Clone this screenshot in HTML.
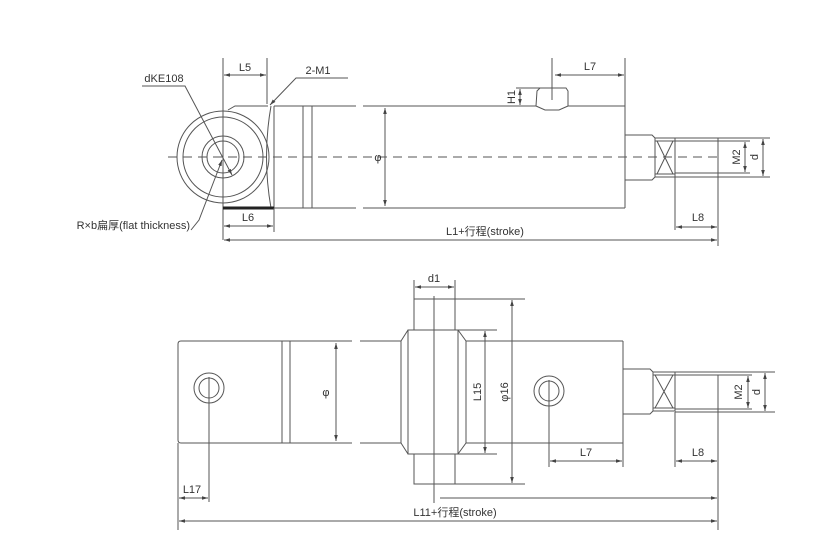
<!DOCTYPE html>
<html><head><meta charset="utf-8"><style>
html,body{margin:0;padding:0;background:#fff;}
svg{display:block}
text{font-family:"Liberation Sans","Noto Sans CJK SC",sans-serif;font-size:11px;fill:#333}
</style></head><body>
<svg width="840" height="546" viewBox="0 0 840 546" xmlns="http://www.w3.org/2000/svg">
<defs>
<marker id="a" viewBox="0 0 10 10" refX="10" refY="5" markerWidth="6" markerHeight="6" orient="auto-start-reverse"><path d="M0,2 L10,5 L0,8 z" fill="#444"/></marker>
</defs>
<g stroke="#555" stroke-width="1" fill="none">
<!-- TOP VIEW -->
<line x1="168" y1="157" x2="722" y2="157" stroke-dasharray="9,6"/>
<circle cx="223" cy="157" r="46"/>
<circle cx="223" cy="157" r="40"/>
<circle cx="223" cy="157" r="21"/>
<circle cx="223" cy="157" r="16"/>
<line x1="223" y1="58" x2="223" y2="240"/>
<path d="M228,110 L235,106 L268,106"/>
<path d="M271,106 Q262,157 271,208"/>
<line x1="274" y1="106" x2="274" y2="208"/>
<line x1="223" y1="208" x2="274" y2="208" stroke="#222" stroke-width="3"/>
<line x1="274" y1="106" x2="356" y2="106"/>
<line x1="274" y1="208" x2="356" y2="208"/>
<line x1="363" y1="106" x2="536" y2="106"/>
<line x1="568" y1="106" x2="625" y2="106"/>
<line x1="363" y1="208" x2="625" y2="208"/>
<rect x="303" y="106" width="9" height="102"/>
<line x1="385" y1="108" x2="385" y2="206" marker-start="url(#a)" marker-end="url(#a)"/>
<path d="M536,106 L537,91 L540,88 L566,88 L568,91 L568,106 M536,106 L545,110 L559,110 L568,106"/>
<line x1="552" y1="58" x2="552" y2="100"/>
<line x1="625" y1="58" x2="625" y2="208"/>
<line x1="555" y1="75" x2="624" y2="75" marker-start="url(#a)" marker-end="url(#a)"/>
<line x1="516" y1="88" x2="540" y2="88"/>
<line x1="520" y1="89" x2="520" y2="105" marker-start="url(#a)" marker-end="url(#a)"/>
<path d="M625,135 L652,135 L655,138 L655,177 L652,180 L625,180"/>
<rect x="655" y="138" width="20" height="39"/>
<path d="M657,141 L673,174 M673,141 L657,174 M655,141 L675,141 M655,174 L675,174"/>
<line x1="675" y1="138" x2="770" y2="138"/>
<line x1="675" y1="177" x2="770" y2="177"/>
<line x1="675" y1="141" x2="750" y2="141"/>
<line x1="675" y1="173" x2="750" y2="173"/>
<line x1="675" y1="177" x2="675" y2="230"/>
<line x1="718" y1="138" x2="718" y2="246"/>
<line x1="745" y1="142" x2="745" y2="172" marker-start="url(#a)" marker-end="url(#a)"/>
<line x1="763" y1="139" x2="763" y2="176" marker-start="url(#a)" marker-end="url(#a)"/>
<line x1="676" y1="227" x2="717" y2="227" marker-start="url(#a)" marker-end="url(#a)"/>
<line x1="224" y1="240" x2="717" y2="240" marker-start="url(#a)" marker-end="url(#a)"/>
<line x1="267" y1="58" x2="267" y2="104"/>
<line x1="224" y1="75" x2="266" y2="75" marker-start="url(#a)" marker-end="url(#a)"/>
<line x1="274" y1="208" x2="274" y2="232"/>
<line x1="224" y1="226" x2="273" y2="226" marker-start="url(#a)" marker-end="url(#a)"/>
<path d="M348,78 L296,78 L270,105" marker-end="url(#a)"/>
<path d="M142,86 L185,86 L232,175" marker-end="url(#a)"/>
<path d="M191,230 L199,220 L222,160" marker-end="url(#a)"/>

<!-- BOTTOM VIEW -->
<path d="M352,341 L181,341 Q178,341 178,344 L178,440 Q178,443 181,443 L352,443"/>
<line x1="282" y1="341" x2="282" y2="443"/>
<line x1="290" y1="341" x2="290" y2="443"/>
<line x1="336" y1="343" x2="336" y2="441" marker-start="url(#a)" marker-end="url(#a)"/>
<line x1="360" y1="341" x2="401" y2="341"/>
<line x1="360" y1="443" x2="401" y2="443"/>
<path d="M408,330 L401,341 L401,443 L408,454"/>
<rect x="408" y="330" width="50" height="124"/>
<path d="M458,330 L466,341 L466,443 L458,454"/>
<line x1="466" y1="341" x2="623" y2="341"/>
<line x1="466" y1="443" x2="623" y2="443"/>
<rect x="414" y="299" width="41" height="31"/>
<rect x="414" y="454" width="41" height="30"/>
<line x1="414" y1="280" x2="414" y2="299"/>
<line x1="455" y1="280" x2="455" y2="299"/>
<line x1="415" y1="287" x2="454" y2="287" marker-start="url(#a)" marker-end="url(#a)"/>
<line x1="434" y1="296" x2="434" y2="503"/>
<line x1="455" y1="299" x2="525" y2="299"/>
<line x1="455" y1="484" x2="525" y2="484"/>
<line x1="458" y1="330" x2="497" y2="330"/>
<line x1="458" y1="454" x2="497" y2="454"/>
<line x1="485" y1="331" x2="485" y2="453" marker-start="url(#a)" marker-end="url(#a)"/>
<line x1="512" y1="300" x2="512" y2="483" marker-start="url(#a)" marker-end="url(#a)"/>
<circle cx="209" cy="388" r="15"/>
<circle cx="209" cy="388" r="10"/>
<line x1="209" y1="377" x2="209" y2="502"/>
<circle cx="549" cy="391" r="15"/>
<circle cx="549" cy="391" r="10"/>
<line x1="549" y1="380" x2="549" y2="467"/>
<line x1="623" y1="341" x2="623" y2="467"/>
<line x1="550" y1="461" x2="622" y2="461" marker-start="url(#a)" marker-end="url(#a)"/>
<path d="M623,369 L650,369 L653,372 L653,411 L650,414 L623,414"/>
<rect x="653" y="372" width="22" height="39"/>
<path d="M655,375 L673,408 M673,375 L655,408 M653,375 L675,375 M653,408 L675,408"/>
<line x1="675" y1="372" x2="775" y2="372"/>
<line x1="675" y1="412" x2="775" y2="412"/>
<line x1="675" y1="375" x2="752" y2="375"/>
<line x1="675" y1="409" x2="752" y2="409"/>
<line x1="675" y1="412" x2="675" y2="467"/>
<line x1="718" y1="375" x2="718" y2="530"/>
<line x1="748" y1="376" x2="748" y2="408" marker-start="url(#a)" marker-end="url(#a)"/>
<line x1="765" y1="373" x2="765" y2="411" marker-start="url(#a)" marker-end="url(#a)"/>
<line x1="676" y1="461" x2="717" y2="461" marker-start="url(#a)" marker-end="url(#a)"/>
<line x1="440" y1="498" x2="717" y2="498" marker-end="url(#a)"/>
<line x1="178" y1="443" x2="178" y2="530"/>
<line x1="179" y1="498" x2="208" y2="498" marker-start="url(#a)" marker-end="url(#a)"/>
<line x1="179" y1="521" x2="717" y2="521" marker-start="url(#a)" marker-end="url(#a)"/>
</g>
<g>
<text x="245" y="71" text-anchor="middle">L5</text>
<text x="318" y="74" text-anchor="middle">2-M1</text>
<text x="164" y="82" text-anchor="middle">dKE108</text>
<text x="190" y="229" text-anchor="end">R×b扁厚(flat thickness)</text>
<text x="248" y="221" text-anchor="middle">L6</text>
<text x="378" y="161" text-anchor="middle">φ</text>
<text x="590" y="70" text-anchor="middle">L7</text>
<text transform="translate(515,97) rotate(-90)" text-anchor="middle">H1</text>
<text transform="translate(740,157) rotate(-90)" text-anchor="middle">M2</text>
<text transform="translate(758,157) rotate(-90)" text-anchor="middle">d</text>
<text x="698" y="221" text-anchor="middle">L8</text>
<text x="485" y="235" text-anchor="middle">L1+行程(stroke)</text>
<text x="434" y="282" text-anchor="middle">d1</text>
<text x="326" y="396" text-anchor="middle">φ</text>
<text transform="translate(481,392) rotate(-90)" text-anchor="middle">L15</text>
<text transform="translate(508,392) rotate(-90)" text-anchor="middle">φ16</text>
<text transform="translate(742,392) rotate(-90)" text-anchor="middle">M2</text>
<text transform="translate(760,392) rotate(-90)" text-anchor="middle">d</text>
<text x="586" y="456" text-anchor="middle">L7</text>
<text x="698" y="456" text-anchor="middle">L8</text>
<text x="192" y="493" text-anchor="middle">L17</text>
<text x="455" y="516" text-anchor="middle">L11+行程(stroke)</text>
</g>
</svg>
</body></html>
